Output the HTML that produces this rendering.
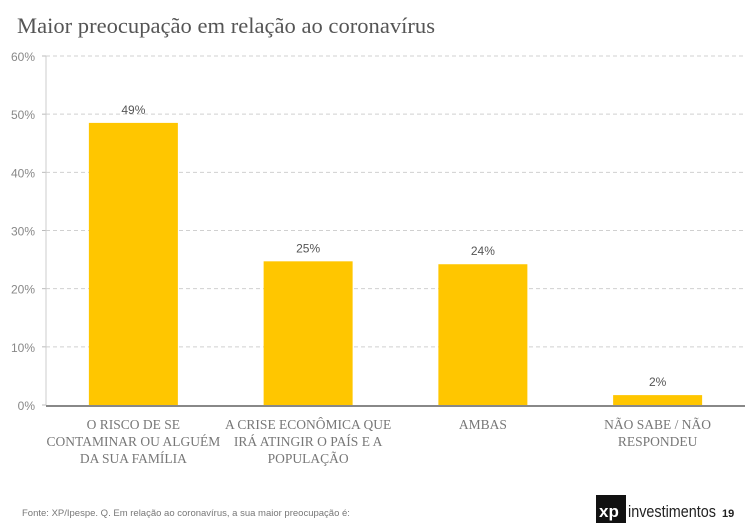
<!DOCTYPE html>
<html><head><meta charset="utf-8"><style>
html,body{margin:0;padding:0;background:#fff;}
body{width:754px;height:527px;overflow:hidden;position:relative;}
svg{position:absolute;left:0;top:0;}
</style></head><body>
<svg id="c" width="754" height="527" xmlns="http://www.w3.org/2000/svg">
<text x="17" y="33" font-family="Liberation Serif, serif" font-size="22" fill="#555" textLength="418" lengthAdjust="spacingAndGlyphs">Maior preocupação em relação ao coronavírus</text>
<g id="grid"></g>
<g id="bars"></g>
<g id="xlabels"></g>
<text x="22" y="516" font-family="Liberation Sans, sans-serif" font-size="9.5" fill="#777">Fonte: XP/Ipespe. Q. Em relação ao coronavírus, a sua maior preocupação é:</text>
<g>
<rect x="596" y="495" width="30" height="28" fill="#111"/>
<text x="599" y="517" font-family="Liberation Sans, sans-serif" font-size="17" font-weight="bold" fill="#fff">xp</text>
<text x="628" y="517" font-family="Liberation Sans, sans-serif" font-size="17" fill="#222" textLength="88" lengthAdjust="spacingAndGlyphs">investimentos</text>
</g>
<text x="722" y="517" font-family="Liberation Sans, sans-serif" font-size="11" font-weight="bold" fill="#222">19</text>
</svg>
<script>
const categories = [["O RISCO DE SE","CONTAMINAR OU ALGUÉM","DA SUA FAMÍLIA"],["A CRISE ECONÔMICA QUE","IRÁ ATINGIR O PAÍS E A","POPULAÇÃO"],["AMBAS"],["NÃO SABE / NÃO","RESPONDEU"]];
const values = [48.5, 24.7, 24.2, 1.7];
const valueLabels = ["49%","25%","24%","2%"];
const ticks = [0,10,20,30,40,50,60];
const NS="http://www.w3.org/2000/svg";
const L=46,R=745,T=56,B=405,maxV=60;
const y=v=>B-(v/maxV)*(B-T);
const band=(R-L)/categories.length;
const bx=i=>L+band*i+band/2;
function mk(tag,attrs,parent){const e=document.createElementNS(NS,tag);for(const k in attrs)e.setAttribute(k,attrs[k]);parent.appendChild(e);return e;}
const grid=document.getElementById('grid'),bars=document.getElementById('bars'),xl=document.getElementById('xlabels');
ticks.forEach(t=>{
  if(t>0){const g=mk('line',{x1:L,x2:R,y1:y(t),y2:y(t),stroke:'#d0d0d0','stroke-dasharray':'4,3'},grid);
  
  }
  mk('line',{x1:42,x2:L,y1:y(t),y2:y(t),stroke:'#bbb'},grid);
  const tx=mk('text',{x:35,y:y(t)+5,'text-anchor':'end','font-family':'Liberation Sans, sans-serif','font-size':'12',fill:'#888'},grid);
  tx.textContent=t+'%';
  
  
});
mk('line',{x1:L,x2:L,y1:T,y2:B,stroke:'#ccc'},grid);
values.forEach((v,i)=>{
  const w=89;
  const r=mk('rect',{x:bx(i)-w/2,y:y(v),width:w,height:B-y(v),fill:'#FFC600'},bars);
  
  
  const t=mk('text',{x:bx(i),y:y(v)-9,'text-anchor':'middle','font-family':'Liberation Sans, sans-serif','font-size':'12',fill:'#555'},bars);
  t.textContent=valueLabels[i];
  
  
  categories[i].forEach((line,j)=>{
    const c=mk('text',{x:bx(i),y:429+j*17,'text-anchor':'middle','font-family':'Liberation Serif, serif','font-size':'13.5',fill:'#777'},xl);
    c.textContent=line;
    
    
  });
});
mk('line',{x1:L,x2:R,y1:B+1,y2:B+1,stroke:'#888','stroke-width':2},grid);
</script>
</body></html>
